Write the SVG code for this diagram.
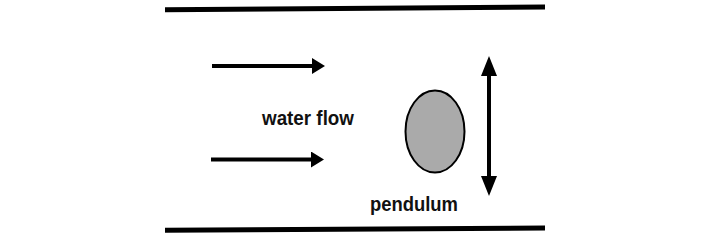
<svg xmlns="http://www.w3.org/2000/svg" width="714" height="238" viewBox="0 0 714 238">
<style>
.wall{stroke:#000;stroke-width:5;fill:none}
.conn{stroke:#000;stroke-width:4;fill:none}
.lbl{font-family:"Liberation Sans",Arial,sans-serif;font-weight:bold;font-size:20.5px;fill:#111}
</style>
<defs>
<marker id="ah" markerUnits="userSpaceOnUse" markerWidth="14" markerHeight="18" refX="1" refY="8" orient="auto-start-reverse" viewBox="0 0 14 18">
<path d="M0,0 L13,8 L0,16 Z" fill="#000"/>
</marker>
<marker id="vh" markerUnits="userSpaceOnUse" markerWidth="20" markerHeight="18" refX="1" refY="8" orient="auto-start-reverse" viewBox="0 0 20 18">
<path d="M0,0 L20,8 L0,16 Z" fill="#000"/>
</marker>
</defs>
<rect width="714" height="238" fill="#fff"/>
<g id="walls">
<line class="wall" x1="165" y1="9.8" x2="545" y2="7"/>
<line class="wall" x1="165" y1="230.3" x2="545" y2="228"/>
</g>
<g id="connectors">
<line class="conn" x1="212" y1="66" x2="313" y2="66" marker-end="url(#ah)"/>
<line class="conn" x1="211" y1="159.5" x2="312" y2="159.5" marker-end="url(#ah)"/>
<line class="conn" x1="489" y1="75" x2="489" y2="177" marker-start="url(#vh)" marker-end="url(#vh)"/>
</g>
<g id="pendulum">
<ellipse cx="435" cy="131.5" rx="29.5" ry="41" fill="#aaaaaa" stroke="#000" stroke-width="2"/>
</g>
<g id="label-water">
<text class="lbl" x="262" y="125" textLength="92" lengthAdjust="spacingAndGlyphs">water flow</text>
</g>
<g id="label-pendulum">
<text class="lbl" x="370" y="211" textLength="88" lengthAdjust="spacingAndGlyphs">pendulum</text>
</g>
</svg>
